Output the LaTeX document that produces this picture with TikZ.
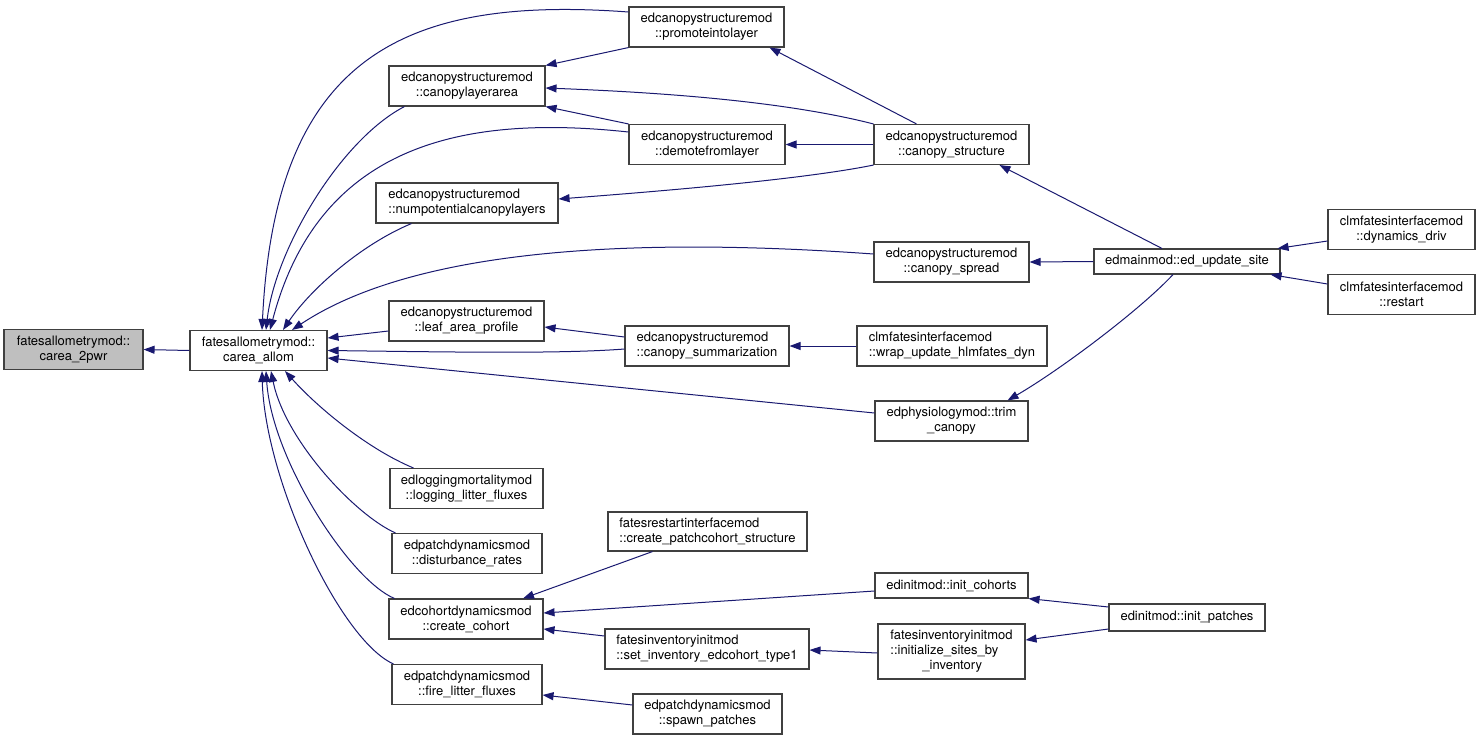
\documentclass[tikz,border=0pt]{standalone}
\usepackage{fontspec}
\setmainfont{TeX Gyre Heros}
\usetikzlibrary{arrows.meta}
\definecolor{edgeblue}{HTML}{191970}
\definecolor{boxgray}{HTML}{404040}
\definecolor{selgray}{HTML}{BFBFBF}
\tikzset{
  fnode/.style={draw=boxgray,line width=1.1pt,fill=white,align=center,inner sep=2pt,
    minimum height=40pt,font=\fontsize{13}{15}\selectfont},
  fleft/.style={fnode,align=left},
  callEdge/.style={-{Triangle[length=11pt,width=8pt]},draw=edgeblue,line width=1pt}
}
\begin{document}
\begin{tikzpicture}[x=1pt,y=-1pt]
  \useasboundingbox (0,0) rectangle (1480,740);
  \node[fnode,fill=selgray,minimum width=139pt] (c2p) at (73.5,349.5) {fatesallometrymod::\\carea\_2pwr};
  \node[fnode,minimum width=137pt] (alloc) at (258.5,350.5) {fatesallometrymod::\\carea\_allom};
  \node[fnode,minimum width=156pt] (cla) at (467,86) {edcanopystructuremod\\::canopylayerarea};
  \node[fleft,minimum width=182pt] (numpot) at (467,203) {edcanopystructuremod\\::numpotentialcanopylayers};
  \node[fnode,minimum width=155pt] (prom) at (706.5,27) {edcanopystructuremod\\::promoteintolayer};
  \node[fnode,minimum width=156pt] (demo) at (707,144.5) {edcanopystructuremod\\::demotefromlayer};
  \node[fnode,minimum width=155pt] (cstruct) at (951.5,144.5) {edcanopystructuremod\\::canopy\_structure};
  \node[fnode,minimum width=155pt] (cspread) at (951.5,262) {edcanopystructuremod\\::canopy\_spread};
  \node[fnode,minimum width=155pt] (lap) at (466.5,321) {edcanopystructuremod\\::leaf\_area\_profile};
  \node[fleft,minimum width=164pt] (csum) at (707,346) {edcanopystructuremod\\::canopy\_summarization};
  \node[fleft,minimum width=190pt] (wrap) at (952,346) {clmfatesinterfacemod\\::wrap\_update\_hlmfates\_dyn};
  \node[fnode,minimum width=153pt] (trim) at (951.5,421) {edphysiologymod::trim\\\_canopy};
  \node[fnode,minimum width=153pt] (llf) at (466.5,488.5) {edloggingmortalitymod\\::logging\_litter\_fluxes};
  \node[fnode,minimum width=150pt] (dist) at (467,553.5) {edpatchdynamicsmod\\::disturbance\_rates};
  \node[fnode,minimum width=154pt] (ccoh) at (466,619) {edcohortdynamicsmod\\::create\_cohort};
  \node[fnode,minimum width=150pt] (fire) at (467,684.5) {edpatchdynamicsmod\\::fire\_litter\_fluxes};
  \node[fleft,minimum width=199pt,minimum height=39pt] (cpcs) at (707.5,531.5) {fatesrestartinterfacemod\\::create\_patchcohort\_structure};
  \node[fnode,minimum width=153pt,minimum height=25pt] (icoh) at (951.5,585.5) {edinitmod::init\_cohorts};
  \node[fleft,minimum width=204pt] (sinv) at (707,649) {fatesinventoryinitmod\\::set\_inventory\_edcohort\_type1};
  \node[fleft,minimum width=147pt,minimum height=55pt] (isbi) at (951.5,651.5) {fatesinventoryinitmod\\::initialize\_sites\_by\\\hspace*{32pt}\_inventory};
  \node[fnode,minimum width=149pt] (spawn) at (707.5,714) {edpatchdynamicsmod\\::spawn\_patches};
  \node[fnode,minimum width=186pt,minimum height=25pt] (eus) at (1187,261.5) {edmainmod::ed\_update\_site};
  \node[fnode,minimum width=147pt] (ddrv) at (1401.5,229.5) {clmfatesinterfacemod\\::dynamics\_driv};
  \node[fnode,minimum width=147pt] (rst) at (1401.5,294.5) {clmfatesinterfacemod\\::restart};
  \node[fnode,minimum width=156pt,minimum height=27pt] (ipat) at (1187,617.5) {edinitmod::init\_patches};

  \draw[callEdge] (alloc.west) -- (c2p.east);
  \draw[callEdge] ([yshift=15pt]prom.west) .. controls (400,-5) and (275,60) .. ([xshift=3.5pt]alloc.north);
  \draw[callEdge] ([xshift=16pt]cla.south west) .. controls (340,140) and (275,250) .. ([xshift=7.5pt]alloc.north);
  \draw[callEdge] ([yshift=12.5pt]demo.west) .. controls (470,115) and (320,140) .. ([xshift=11.5pt]alloc.north);
  \draw[callEdge] ([xshift=36pt]numpot.south west) .. controls (360,245) and (310,290) .. ([xshift=24.5pt]alloc.north);
  \draw[callEdge] ([yshift=8pt]cspread.west) .. controls (650,238) and (420,245) .. ([xshift=33.5pt]alloc.north);
  \draw[callEdge] ([yshift=-10pt]lap.west) -- ([yshift=12.5pt]alloc.east);
  \draw[callEdge] ([yshift=-3pt]csum.west) .. controls (560,354) and (450,352) .. (alloc.east);
  \draw[callEdge] ([yshift=8pt]trim.west) -- ([yshift=-7.5pt]alloc.east);
  \draw[callEdge] ([xshift=24pt]llf.north west) .. controls (370,450) and (320,410) .. ([xshift=26.5pt]alloc.south);
  \draw[callEdge] ([xshift=4pt]dist.north west) .. controls (355,515) and (285,440) .. ([xshift=12.5pt]alloc.south);
  \draw[callEdge] ([xshift=6pt]ccoh.north west) .. controls (350,580) and (272,460) .. ([xshift=7.5pt]alloc.south);
  \draw[callEdge] ([xshift=2pt]fire.north west) .. controls (340,640) and (265,480) .. ([xshift=3.5pt]alloc.south);
  \draw[callEdge] (prom.south west) -- (cla.north east);
  \draw[callEdge] (cstruct.north west) .. controls (780,100) and (650,92) .. ([yshift=-2pt]cla.east);
  \draw[callEdge] (demo.north west) -- (cla.south east);
  \draw[callEdge] ([xshift=-35pt]cstruct.north) -- ([xshift=63pt]prom.south);
  \draw[callEdge] (cstruct.west) -- (demo.east);
  \draw[callEdge] (cstruct.south west) .. controls (800,180) and (650,192) .. ([yshift=4pt]numpot.east);
  \draw[callEdge] ([xshift=-25pt]eus.north) -- ([xshift=48pt]cstruct.south);
  \draw[callEdge] (eus.west) -- (cspread.east);
  \draw[callEdge] ([xshift=-14pt]eus.south) .. controls (1140,310) and (1060,370) .. ([xshift=56pt]trim.north);
  \draw[callEdge] ([yshift=-11.5pt]ddrv.west) -- ([xshift=-3pt]eus.north east);
  \draw[callEdge] ([yshift=10.5pt]rst.west) -- ([xshift=-10pt]eus.south east);
  \draw[callEdge] ([yshift=9pt]csum.west) -- ([yshift=-6pt]lap.east);
  \draw[callEdge] (wrap.west) -- (csum.east);
  \draw[callEdge] ([xshift=-55pt]cpcs.south) -- ([xshift=57pt]ccoh.north);
  \draw[callEdge] ([yshift=-5.5pt]icoh.west) -- ([yshift=6pt]ccoh.east);
  \draw[callEdge] ([yshift=13pt]sinv.west) -- ([yshift=-10pt]ccoh.east);
  \draw[callEdge] ([yshift=-1.5pt]isbi.west) -- ([yshift=-1pt]sinv.east);
  \draw[callEdge] ([yshift=10.5pt]ipat.west) -- (icoh.south east);
  \draw[callEdge] ([yshift=-11.5pt]ipat.west) -- ([yshift=11.5pt]isbi.east);
  \draw[callEdge] ([yshift=9pt]spawn.west) -- ([yshift=-10.5pt]fire.east);
\end{tikzpicture}
\end{document}
